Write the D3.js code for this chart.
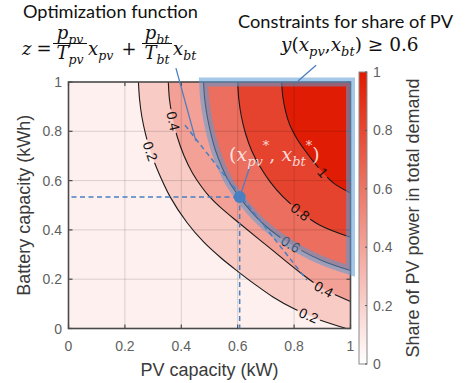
<!DOCTYPE html>
<html><head><meta charset="utf-8">
<script src="https://cdn.jsdelivr.net/npm/d3@7/dist/d3.min.js"></script>
<style>
html,body{margin:0;padding:0;background:#fff;}
svg{display:block;}
</style></head>
<body>
<svg id="chart" width="468" height="383"></svg>
<script>
// ---------------- data ----------------
const xTicks = [0, 0.2, 0.4, 0.6, 0.8, 1];
const yTicks = [0, 0.2, 0.4, 0.6, 0.8, 1];
const cbTicks = [0, 0.2, 0.4, 0.6, 0.8, 1];
const contourLevels = [0.2, 0.4, 0.6, 0.8, 1];
const contour02 = [[0.248,1],[0.252,0.93],[0.26,0.86],[0.273,0.79],[0.29,0.72],[0.313,0.65],[0.36,0.535],[0.42,0.43],[0.48,0.35],[0.54,0.287],[0.60,0.232],[0.66,0.18],[0.725,0.128],[0.80,0.08],[0.88,0.04],[0.985,0]];
const contour04 = [[0.354,1],[0.358,0.93],[0.368,0.86],[0.385,0.78],[0.41,0.70],[0.44,0.63],[0.475,0.57],[0.50,0.535],[0.545,0.485],[0.605,0.428],[0.71,0.33],[0.82,0.228],[0.90,0.163],[1,0.11]];
const contour06 = [[0.479,1],[0.483,0.93],[0.492,0.86],[0.505,0.79],[0.522,0.72],[0.542,0.66],[0.567,0.60],[0.605,0.535],[0.645,0.478],[0.69,0.425],[0.75,0.37],[0.82,0.32],[0.90,0.275],[1,0.235]];
const contour08 = [[0.60,1],[0.604,0.93],[0.613,0.86],[0.628,0.79],[0.65,0.72],[0.68,0.655],[0.715,0.595],[0.76,0.535],[0.82,0.475],[0.89,0.42],[1,0.37]];
const contour10 = [[0.756,1],[0.76,0.94],[0.77,0.88],[0.785,0.825],[0.81,0.77],[0.84,0.72],[0.87,0.675],[0.90,0.635],[0.94,0.59],[1,0.55]];
const contourLines = [contour02, contour04, contour06, contour08, contour10];
const bandColors = ['#fdf0ee','#f8cbc5','#f3a096','#ec6e5e','#e6432f','#e01c04'];
const labelLevels = [0.2, 0.4, 0.2, 0.4, 0.6, 0.8, 1];
const labelX      = [0.29, 0.37, 0.85, 0.90, 0.787, 0.82, 0.898];
const labelY      = [0.72, 0.84, 0.05, 0.15, 0.339, 0.47, 0.63];
const optimum = [0.607, 0.533];
const costLine = [[0.413,0.825],[0.845,0.197]];
const constraintLevelIndex = 2; // the 0.6 contour
const pointerOpt = [[0.381,1.056],[0.452,0.76]];
const pointerCon = [[0.878,1.068],[0.814,1.004]];
const pointerDot = [[0.607,0.533],[0.643,0.655]];

// ---------------- chart ----------------
const svg = d3.select('#chart');
const x = d3.scaleLinear().domain([0,1]).range([68.5,350.5]);
const y = d3.scaleLinear().domain([0,1]).range([328.5,82]);
const cbY = d3.scaleLinear().domain([0,1]).range([364,72]);
const colorScale = d3.scaleLinear().domain([0,1]).range(['#ffffff','#e01a00']);
const sans = "'Liberation Sans', Arial, Helvetica, sans-serif";
const serif = "'DejaVu Serif', 'Liberation Serif', serif";
const calib = "Lato, 'Open Sans', sans-serif";

const defs = svg.append('defs');
defs.append('clipPath').attr('id','plotclip').append('rect')
  .attr('x',x(0)).attr('y',y(1)).attr('width',x(1)-x(0)).attr('height',y(0)-y(1));

const lineGen = d3.line().x(d=>x(d[0])).y(d=>y(d[1])).curve(d3.curveCatmullRom.alpha(0.5));

function regionPath(pts){
  let p = lineGen(pts);
  const last = pts[pts.length-1];
  if (last[1] <= 0.0001) p += `L${x(1)},${y(0)}`;
  p += `L${x(1)},${y(1)}Z`;
  return p;
}

// filled bands
const fills = svg.append('g').attr('clip-path','url(#plotclip)');
fills.append('rect').attr('x',x(0)).attr('y',y(1)).attr('width',x(1)-x(0)).attr('height',y(0)-y(1))
  .attr('fill',bandColors[0]);
contourLines.forEach((pts,i)=>{
  fills.append('path').attr('d',regionPath(pts)).attr('fill',bandColors[i+1]);
});

// mask for contour label gaps
const mask = defs.append('mask').attr('id','lblmask').attr('maskUnits','userSpaceOnUse')
  .attr('x',0).attr('y',0).attr('width',468).attr('height',383);
mask.append('rect').attr('x',0).attr('y',0).attr('width',468).attr('height',383).attr('fill','#fff');

// contour lines
const clines = svg.append('g').attr('clip-path','url(#plotclip)').append('g').attr('mask','url(#lblmask)');
const pathEls = contourLines.map(pts =>
  clines.append('path').attr('d',lineGen(pts)).attr('fill','none').attr('stroke','#1a1a1a').attr('stroke-width',1.1).node()
);

// contour labels
const lblG = svg.append('g');
labelLevels.forEach((lev,k)=>{
  const idx = contourLevels.indexOf(lev);
  const pe = pathEls[idx];
  const L = pe.getTotalLength();
  const tx = x(labelX[k]), ty = y(labelY[k]);
  let best = 0, bd = Infinity;
  for (let s=0; s<=L; s+=0.5){
    const p = pe.getPointAtLength(s);
    const d = (p.x-tx)**2 + (p.y-ty)**2;
    if (d<bd){bd=d;best=s;}
  }
  const p = pe.getPointAtLength(best);
  const a = pe.getPointAtLength(Math.max(0,best-4)), b = pe.getPointAtLength(Math.min(L,best+4));
  let ang = Math.atan2(b.y-a.y, b.x-a.x)*180/Math.PI;
  if (ang>90) ang-=180; if (ang<-90) ang+=180;
  const t = lblG.append('text')
    .attr('transform',`translate(${p.x},${p.y}) rotate(${ang})`)
    .attr('text-anchor','middle').attr('dy','0.36em')
    .attr('font-family',sans).attr('font-size',14).attr('fill','#111')
    .text(lev===1?'1':d3.format('.1f')(lev));
  const w = t.node().getComputedTextLength() + 5;
  mask.append('rect').attr('x',-w/2).attr('y',-7).attr('width',w).attr('height',14)
    .attr('transform',`translate(${p.x},${p.y}) rotate(${ang})`).attr('fill','#000');
});

// grid
const grid = svg.append('g').attr('stroke','#000').attr('stroke-opacity',0.14).attr('stroke-width',1);
xTicks.slice(1,-1).forEach(v=>grid.append('line').attr('x1',x(v)).attr('x2',x(v)).attr('y1',y(0)).attr('y2',y(1)));
yTicks.slice(1,-1).forEach(v=>grid.append('line').attr('y1',y(v)).attr('y2',y(v)).attr('x1',x(0)).attr('x2',x(1)));

// frame and ticks
const ax = svg.append('g').attr('stroke','#4a4a4a');
ax.append('rect').attr('x',x(0)).attr('y',y(1)).attr('width',x(1)-x(0)).attr('height',y(0)-y(1))
  .attr('fill','none').attr('stroke-width',1.6);
xTicks.forEach(v=>{
  ax.append('line').attr('x1',x(v)).attr('x2',x(v)).attr('y1',y(0)).attr('y2',y(0)-4).attr('stroke-width',1.2);
  ax.append('line').attr('x1',x(v)).attr('x2',x(v)).attr('y1',y(1)).attr('y2',y(1)+4).attr('stroke-width',1.2);
});
yTicks.forEach(v=>{
  ax.append('line').attr('y1',y(v)).attr('y2',y(v)).attr('x1',x(0)).attr('x2',x(0)+4).attr('stroke-width',1.2);
  ax.append('line').attr('y1',y(v)).attr('y2',y(v)).attr('x1',x(1)).attr('x2',x(1)-4).attr('stroke-width',1.2);
});
const fmt = v => v===0?'0':(v===1?'1':d3.format('.1f')(v));
svg.append('g').selectAll('text').data(xTicks).join('text')
  .attr('x',d=>x(d)).attr('y',351).attr('text-anchor','middle')
  .attr('font-family',sans).attr('font-size',14).attr('fill','#5f5f5f').text(fmt);
svg.append('g').selectAll('text').data(yTicks).join('text')
  .attr('x',62).attr('y',d=>y(d)).attr('dy','0.36em').attr('text-anchor','end')
  .attr('font-family',sans).attr('font-size',14).attr('fill','#5f5f5f').text(fmt);
svg.append('text').attr('x',(x(0)+x(1))/2).attr('y',376).attr('text-anchor','middle')
  .attr('font-family',sans).attr('font-size',18).attr('fill','#3a3a3a').text('PV capacity (kW)');
svg.append('text').attr('transform',`translate(29.5,${(y(0)+y(1))/2}) rotate(-90)`).attr('text-anchor','middle')
  .attr('font-family',sans).attr('font-size',18).attr('fill','#3a3a3a').text('Battery capacity (kWh)');

// colorbar
const grad = defs.append('linearGradient').attr('id','cbgrad').attr('x1',0).attr('x2',0).attr('y1',1).attr('y2',0);
d3.range(0,1.001,0.1).forEach(t=>grad.append('stop').attr('offset',t).attr('stop-color',colorScale(t)));
svg.append('rect').attr('x',359).attr('y',cbY(1)).attr('width',8).attr('height',cbY(0)-cbY(1))
  .attr('fill','url(#cbgrad)').attr('stroke','#8a8a8a').attr('stroke-width',1);
cbTicks.forEach(v=>{
  svg.append('line').attr('x1',365).attr('x2',367).attr('y1',cbY(v)).attr('y2',cbY(v)).attr('stroke','#555');
});
svg.append('g').selectAll('text').data(cbTicks).join('text')
  .attr('x',373).attr('y',d=>cbY(d)).attr('dy','0.36em')
  .attr('font-family',sans).attr('font-size',14).attr('fill','#5f5f5f').text(fmt);
svg.append('text').attr('transform',`translate(418.5,218) rotate(-90)`).attr('text-anchor','middle')
  .attr('font-family',sans).attr('font-size',18).attr('fill','#3a3a3a').text('Share of PV power in total demand');

// constraint highlight
const cpts = contourLines[constraintLevelIndex];
svg.append('path').attr('d',regionPath(cpts)).attr('fill','none')
  .attr('stroke','rgb(91,155,213)').attr('stroke-opacity',0.55).attr('stroke-width',9).attr('stroke-linejoin','miter');

// dashed lines
const blue = '#4a7fc1';
const dash = svg.append('g').attr('stroke',blue).attr('stroke-width',1.5).attr('stroke-dasharray','5,3.5').attr('fill','none');
dash.append('line').attr('x1',x(0)+3).attr('x2',x(optimum[0])).attr('y1',y(optimum[1])).attr('y2',y(optimum[1]));
dash.append('line').attr('x1',x(optimum[0])).attr('x2',x(optimum[0])).attr('y1',y(optimum[1])).attr('y2',y(0));
dash.append('line').attr('x1',x(costLine[0][0])).attr('y1',y(costLine[0][1])).attr('x2',x(costLine[1][0])).attr('y2',y(costLine[1][1]));

// pointers
[pointerOpt, pointerCon, pointerDot].forEach(pp=>{
  svg.append('line').attr('x1',x(pp[0][0])).attr('y1',y(pp[0][1])).attr('x2',x(pp[1][0])).attr('y2',y(pp[1][1]))
    .attr('stroke',blue).attr('stroke-width',1.3);
});
svg.append('circle').attr('cx',x(optimum[0])).attr('cy',y(optimum[1])).attr('r',6).attr('fill',blue);

// optimum label
const ol = svg.append('text').attr('x',229).attr('y',161).attr('font-family',serif).attr('font-size',19)
  .attr('fill','#fff').attr('fill-opacity',0.82);
ol.append('tspan').text('(');
ol.append('tspan').attr('font-style','italic').text('x');
ol.append('tspan').attr('font-style','italic').attr('font-size',13).attr('dy',5).text('pv');
ol.append('tspan').attr('font-size',13).attr('dy',-16).text('*');
ol.append('tspan').attr('dy',11).text(', ');
ol.append('tspan').attr('font-style','italic').text('x');
ol.append('tspan').attr('font-style','italic').attr('font-size',13).attr('dy',5).text('bt');
ol.append('tspan').attr('font-size',13).attr('dy',-16).text('*');
ol.append('tspan').attr('dy',11).text(')');

// annotation: optimization function
svg.append('text').attr('x',23).attr('y',17.5).attr('font-family',calib).attr('font-size',16.5)
  .attr('fill','#111').attr('textLength',175).attr('lengthAdjust','spacingAndGlyphs').text('Optimization function');
function mathText(xp, yp, anchor){
  return svg.append('text').attr('x',xp).attr('y',yp).attr('text-anchor',anchor||'start')
    .attr('font-family',serif).attr('font-size',18).attr('fill','#111');
}
function addVar(t, base, sub){
  t.append('tspan').attr('font-style','italic').text(base);
  if (sub) t.append('tspan').attr('font-style','italic').attr('font-size',12.5).attr('dy',5).text(sub);
}
addVar(mathText(22,55), 'z', '');
mathText(44,55,'middle').text('=');
svg.append('line').attr('x1',53).attr('x2',87).attr('y1',43.5).attr('y2',43.5).attr('stroke','#111').attr('stroke-width',1);
addVar(mathText(70,38.5,'middle'),'p','pv');
addVar(mathText(70,59,'middle'),'T','pv');
addVar(mathText(88,55),'x','pv');
mathText(129,55,'middle').text('+');
svg.append('line').attr('x1',142).attr('x2',172).attr('y1',43.5).attr('y2',43.5).attr('stroke','#111').attr('stroke-width',1);
addVar(mathText(157,38.5,'middle'),'p','bt');
addVar(mathText(157,59,'middle'),'T','bt');
addVar(mathText(173,55),'x','bt');

// annotation: constraints
svg.append('text').attr('x',238).attr('y',28).attr('font-family',calib).attr('font-size',16.5)
  .attr('fill','#111').attr('textLength',215).attr('lengthAdjust','spacingAndGlyphs').text('Constraints for share of PV');
const ct = mathText(281,50.5).attr('font-size',18.5);
ct.append('tspan').attr('font-style','italic').text('y');
ct.append('tspan').text('(');
ct.append('tspan').attr('font-style','italic').text('x');
ct.append('tspan').attr('font-style','italic').attr('font-size',13).attr('dy',5).text('pv');
ct.append('tspan').attr('dy',-5).text(',');
ct.append('tspan').attr('font-style','italic').text('x');
ct.append('tspan').attr('font-style','italic').attr('font-size',13).attr('dy',5).text('bt');
ct.append('tspan').attr('dy',-5).text(') ≥ 0.6');
</script>
</body></html>
